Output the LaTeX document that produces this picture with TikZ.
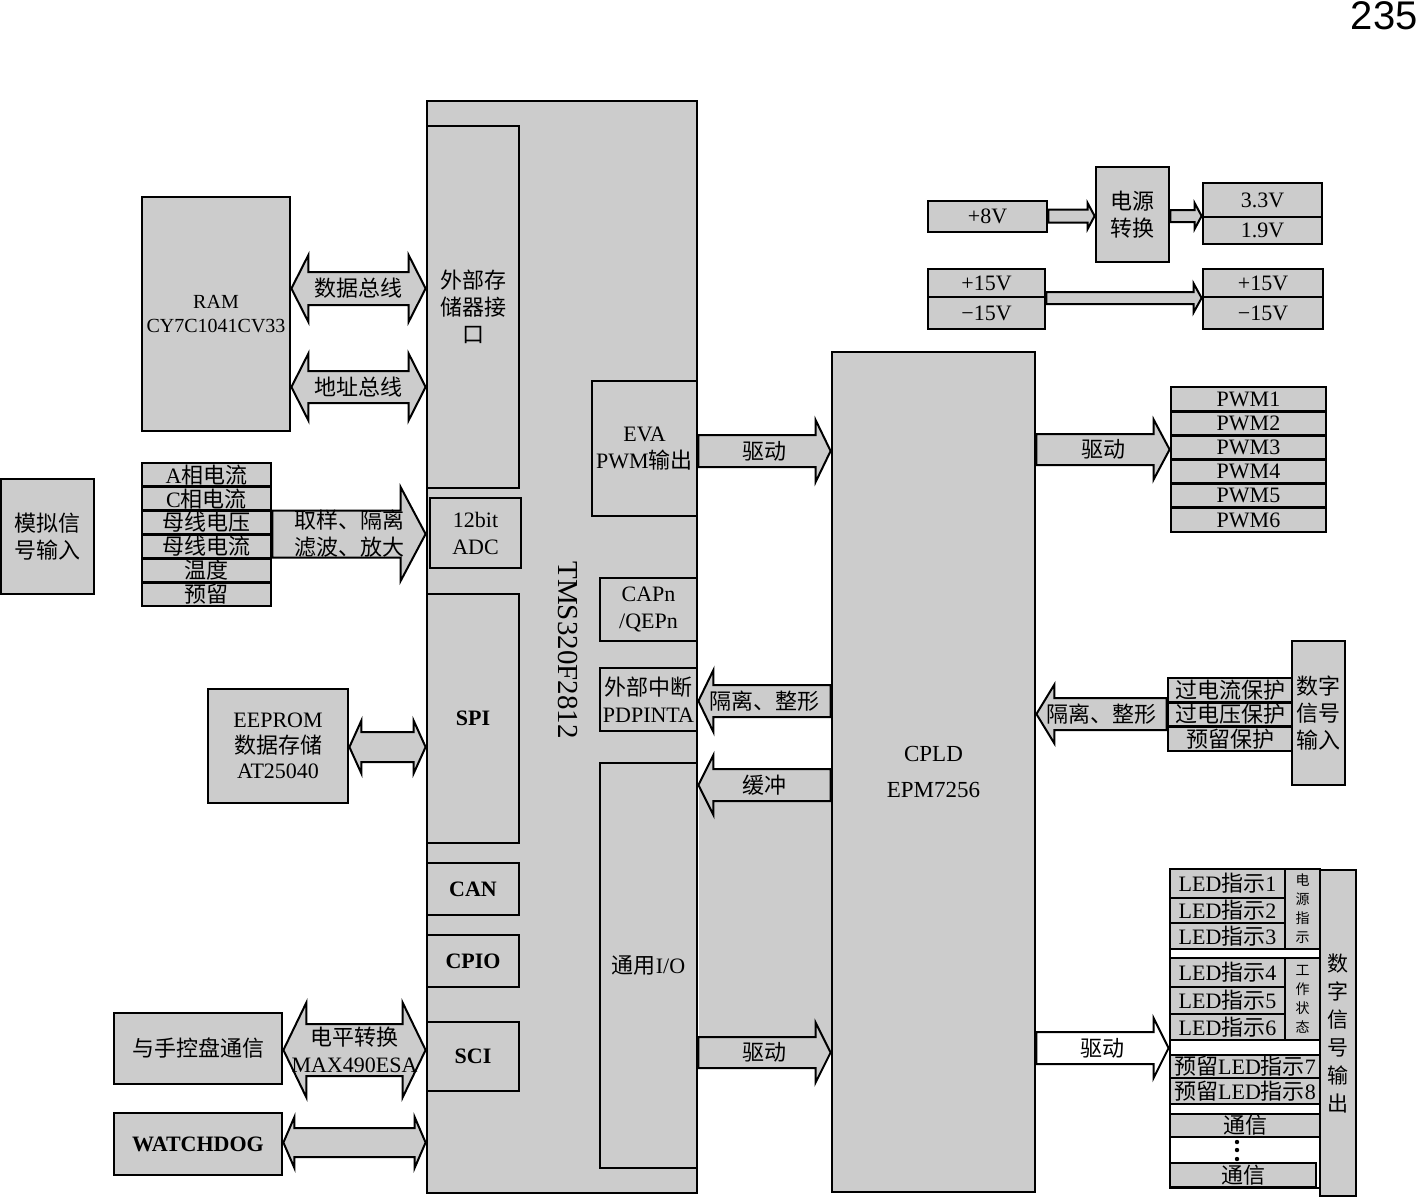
\documentclass[tikz,border=0pt]{standalone}
\usepackage{fontspec}
\setmainfont{Liberation Serif}
\newfontfamily\cj{Noto Sans CJK SC}
\newfontfamily\hv{Liberation Sans}
\usetikzlibrary{calc}
\definecolor{boxgray}{RGB}{204,204,204}
\newcommand{\zh}[1]{{\cj #1}}
\newcommand{\fs}{\fontsize{11}{13.5}\selectfont}
% block arrow: [fill] name, from, tip, shaft half, head half, head length (<0 points left), label
\newcommand{\blkarrow}[8][boxgray]{%
  \draw[blk, fill=#1] ($(#3)-(0,#5)$) -- ($(#4)-(#7,#5)$) -- ($(#4)-(#7,#6)$) -- (#4)
    -- ($(#4)-(#7,-#6)$) -- ($(#4)-(#7,-#5)$) -- ($(#3)-(0,-#5)$) -- cycle;
  \node[lbl] (#2) at ($(#3)!.5!(#4)$) {#8};
}
% double block arrow: name, left tip, right tip, shaft half, head half, head length, label
\newcommand{\dblarrow}[7]{%
  \draw[blk] (#2) -- ($(#2)+(#6,-#5)$) -- ($(#2)+(#6,-#4)$) -- ($(#3)-(#6,#4)$) -- ($(#3)-(#6,#5)$) -- (#3)
    -- ($(#3)-(#6,-#5)$) -- ($(#3)-(#6,-#4)$) -- ($(#2)+(#6,#4)$) -- ($(#2)+(#6,#5)$) -- cycle;
  \node[lbl] (#1) at ($(#2)!.5!(#3)$) {#7};
}

\begin{document}
\begin{tikzpicture}[x=0.5pt, y=-0.5pt,
  box/.style={draw, line width=1.4pt, fill=boxgray, inner sep=0pt, align=center, font=\fs},
  wh/.style 2 args={minimum width=#1*0.5pt, minimum height=#2*0.5pt},
  blk/.style={draw, line width=1pt, fill=boxgray},
  lbl/.style={inner sep=0pt, align=center, font=\fs}]
\useasboundingbox (0,0) rectangle (1418,1196);

\node[anchor=base east, inner sep=0pt, font=\hv\fontsize{20}{20}\selectfont] (page) at (1418,29) {235};

% DSP
\node[box, wh={270}{1092}] (dsp) at (562,647) {};
\node[box, wh={92}{362}, font=\fs\cj] (ext) at (473,307) {外部存\\储器接\\口};
\node[box, wh={91}{70}] (adc) at (475.5,533) {12bit\\ADC};
\node[box, wh={92}{249}, font=\fs\bfseries] (spi) at (473,718.5) {SPI};
\node[box, wh={92}{52}, font=\fs\bfseries] (can) at (473,889) {CAN};
\node[box, wh={92}{52}, font=\fs\bfseries] (cpio) at (473,961) {CPIO};
\node[box, wh={92}{69}, font=\fs\bfseries] (sci) at (473,1056.5) {SCI};
\node[box, wh={105}{135}] (eva) at (644.5,448.5) {EVA\\PWM\zh{输出}};
\node[box, wh={97}{63}] (cap) at (648.5,609.5) {CAPn\\/QEPn};
\node[box, wh={97}{63}] (xint) at (648.5,699.5) {\zh{外部中断}\\PDPINTA};
\node[box, wh={97}{405}] (gpio) at (648.5,965.5) {\zh{通用}I/O};
\node[rotate=-90, inner sep=0pt, font=\fontsize{14.5}{16}\selectfont] (dspname) at (568,650) {TMS320F2812};

% left side
\node[box, wh={148}{234}, font=\fontsize{10}{12}\selectfont] (ram) at (216,314) {RAM\\CY7C1041CV33};
\node[box, wh={93}{115}, font=\fs\cj] (ain) at (47.5,536.5) {模拟信\\号输入};
\foreach \t [count=\i] in {A\zh{相电流}, C\zh{相电流}, \zh{母线电压}, \zh{母线电流}, \zh{温度}, \zh{预留}}
  \node[box, wh={129}{23.83}] (an\i) at (206.5,{474.9+23.83*(\i-1)}) {\t};
\node[box, wh={140}{114}, font=\fontsize{11}{12.8}\selectfont] (eeprom) at (278,746) {EEPROM\\\zh{数据存储}\\AT25040};
\node[box, wh={168}{71}, font=\fs\cj] (hand) at (198,1048.5) {与手控盘通信};
\node[box, wh={168}{62}, font=\fs\bfseries] (wdog) at (198,1144) {WATCHDOG};

% CPLD
\node[box, wh={203}{840}, font=\fontsize{11.5}{18}\selectfont] (cpld) at (933.5,772) {CPLD\\EPM7256};

% power
\node[box, wh={119}{31}] (p8) at (987.5,216.5) {+8V};
\node[box, wh={73}{95}, font=\fs\cj] (conv) at (1132.5,214.5) {电源\\转换};
\node[box, wh={119}{34}] (v33) at (1262.5,200) {3.3V};
\node[box, wh={119}{27}] (v19) at (1262.5,230.5) {1.9V};
\node[box, wh={117}{28}] (p15a) at (986.5,283) {+15V};
\node[box, wh={117}{32}] (m15a) at (986.5,313) {−15V};
\node[box, wh={120}{28}] (p15b) at (1263,283) {+15V};
\node[box, wh={120}{32}] (m15b) at (1263,313) {−15V};

% PWM outputs
\foreach \i in {1,...,6}
  \node[box, wh={155}{24.17}] (pwm\i) at (1248.5,{399.1+24.17*(\i-1)}) {PWM\i};

% digital inputs
\foreach \t [count=\i] in {过电流保护, 过电压保护, 预留保护}
  \node[box, wh={124}{24.3}, font=\fs\cj] (pr\i) at (1230,{690.2+24.3*(\i-1)}) {\t};
\node[box, wh={53}{144}, font=\fs\cj] (din) at (1318.5,713) {数字\\信号\\输入};

% digital outputs
\node[box, fill=white, wh={150}{319}] (frame) at (1245,1028.5) {};
\node[box, wh={36}{326}, font=\fontsize{10.5}{14}\selectfont\cj] (dout) at (1338,1033) {数\\字\\信\\号\\输\\出};
\foreach \y/\h [count=\i] in {883.5/29, 910.5/25, 936/26, 972.5/29, 1000.5/27, 1027/26}
  \node[box, wh={115}{\h}] (led\i) at (1227.5,\y) {LED\zh{指示}\i};
\node[box, wh={35}{80}, font=\fontsize{7}{9.5}\selectfont\cj] (grp1) at (1302.5,909) {电\\源\\指\\示};
\node[box, wh={35}{82}, font=\fontsize{7}{9.5}\selectfont\cj] (grp2) at (1302.5,999) {工\\作\\状\\态};
\node[box, wh={150}{23}] (led7) at (1245,1066.5) {\zh{预留}LED\zh{指示}7};
\node[box, wh={150}{26}] (led8) at (1245,1091) {\zh{预留}LED\zh{指示}8};
\node[box, wh={150}{23}, font=\fs\cj] (com1) at (1245,1125.5) {通信};
\node[box, wh={146}{24}, font=\fs\cj] (com2) at (1243,1175) {通信};
\foreach \y in {1142,1150,1159}
  \fill (1237,\y) circle (2.2);

% bus arrows
\dblarrow{dbus}{ram.east |- 0,288.5}{ext.west |- 0,288.5}{16.5}{33.5}{17}{\zh{数据总线}}
\dblarrow{abus}{ram.east |- 0,387}{ext.west |- 0,387}{16}{33.5}{17}{\zh{地址总线}}
\blkarrow{samp}{an3.east |- 0,534}{dsp.west |- 0,534}{23.5}{47}{25}{\zh{取样、隔离}\\\zh{滤波、放大}}
\dblarrow{spibus}{eeprom.east |- 0,747}{spi.west |- 0,747}{15}{26.5}{12}{}
\dblarrow{rs485}{hand.east |- 0,1050}{sci.west |- 0,1050}{26}{47.5}{23}{\zh{电平转换}\\MAX490ESA}
\dblarrow{wdbus}{wdog.east |- 0,1142.5}{dsp.west |- 0,1142.5}{14.5}{25.5}{11}{}

% DSP <-> CPLD
\fill[boxgray] (698.5,785) rectangle (831,1052);
\blkarrow{drv1}{eva.east |- 0,451}{cpld.west |- 0,451}{16}{31}{15}{\zh{驱动}}
\blkarrow{iso1}{cpld.west |- 0,701}{xint.east |- 0,701}{16}{31}{-15}{\zh{隔离、整形}}
\blkarrow{buf}{cpld.west |- 0,785}{gpio.east |- 0,785}{16}{30}{-15}{\zh{缓冲}}
\blkarrow{drv2}{gpio.east |- 0,1052.5}{cpld.west |- 0,1052.5}{15.5}{30}{15}{\zh{驱动}}

% CPLD outputs and inputs
\blkarrow{drv3}{cpld.east |- 0,449.5}{pwm3.west |- 0,449.5}{15.5}{30}{16}{\zh{驱动}}
\blkarrow{iso2}{pr2.west |- 0,714}{cpld.east |- 0,714}{16}{29.5}{-18}{\zh{隔离、整形}}
\blkarrow[white]{drv4}{cpld.east |- 0,1048}{frame.west |- 0,1048}{16}{30}{15}{\zh{驱动}}

% power arrows
\blkarrow{pw1}{p8.east |- 0,216}{conv.west |- 0,216}{6.5}{13}{7}{}
\blkarrow{pw2}{conv.east |- 0,216}{v33.west |- 0,216}{6}{13}{7}{}
\blkarrow{pw3}{p15a.east |- 0,298}{p15b.west |- 0,298}{6}{14.5}{8}{}
\end{tikzpicture}
\end{document}
